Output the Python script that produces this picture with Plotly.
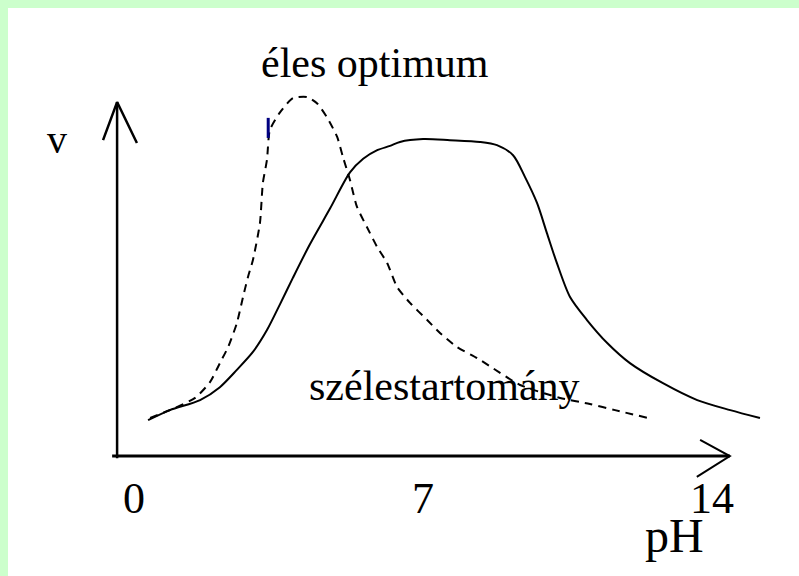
import plotly.graph_objects as go

# Broad range curve (széles tartomány) – pH vs relative rate v
broad_ph = [0.34, 0.87, 1.60, 2.08, 2.49, 2.88, 3.22, 3.54, 3.85, 4.26, 4.75, 5.23, 5.55, 5.89,
            6.20, 6.44, 7.00, 7.65, 8.38, 8.79, 9.18, 9.47, 9.76, 10.00, 10.24, 10.56, 10.97,
            11.46, 12.01, 12.81, 13.64, 14.44, 15.16]
broad_v = [0.100, 0.128, 0.156, 0.192, 0.240, 0.290, 0.351, 0.424, 0.497, 0.590, 0.690, 0.790,
           0.828, 0.852, 0.864, 0.875, 0.883, 0.880, 0.875, 0.866, 0.838, 0.777, 0.705, 0.621,
           0.538, 0.443, 0.379, 0.315, 0.259, 0.203, 0.156, 0.128, 0.106]

# Sharp optimum curve (éles optimum)
sharp_ph = [0.39, 0.99, 1.48, 1.84, 2.08, 2.28, 2.49, 2.64, 2.76, 2.88, 3.05, 3.12, 3.22, 3.29,
            3.54, 3.85, 4.19, 4.43, 4.67, 4.92, 5.06, 5.23, 5.40, 5.64, 5.89, 6.13, 6.37, 6.69,
            7.10, 7.41, 7.82, 8.31, 8.69, 9.35, 10.32, 11.04, 11.65, 12.45]
sharp_v = [0.106, 0.134, 0.162, 0.206, 0.259, 0.304, 0.370, 0.443, 0.499, 0.546, 0.649, 0.760,
           0.825, 0.908, 0.958, 0.997, 1.000, 0.983, 0.944, 0.889, 0.833, 0.769, 0.694, 0.638,
           0.582, 0.538, 0.471, 0.426, 0.379, 0.343, 0.304, 0.273, 0.245, 0.198, 0.162, 0.145,
           0.128, 0.106]

tick_values = [0, 7, 14]
tick_labels = ["0", "7", "14"]

FONT = "Liberation Serif"
BLACK = "#000000"

fig = go.Figure()

fig.add_trace(go.Scatter(x=broad_ph, y=broad_v, mode="lines",
                         line=dict(color=BLACK, width=2, shape="spline", smoothing=0.8),
                         hoverinfo="skip", showlegend=False))
fig.add_trace(go.Scatter(x=sharp_ph, y=sharp_v, mode="lines",
                         line=dict(color=BLACK, width=2, dash="8px,6px", shape="spline", smoothing=0.6),
                         hoverinfo="skip", showlegend=False))
# small blue mark on the dashed curve
fig.add_trace(go.Scatter(x=[3.25, 3.25], y=[0.942, 0.886], mode="lines", line=dict(color="#000080", width=3),
                         hoverinfo="skip", showlegend=False))

# axes with open arrow heads
axis_lines = [
    ([-0.41, -0.41], [-0.006, 0.986], 2.5),     # vertical axis
    ([-0.75, -0.41, 0.07], [0.880, 0.986, 0.872], 2.5),  # arrow head v
    ([-0.53, 14.43], [0.0, 0.0], 3),            # horizontal axis
    ([13.71, 14.43, 13.63], [0.045, 0.0, -0.058], 2),  # arrow head pH
]
for xs, ys, w in axis_lines:
    fig.add_trace(go.Scatter(x=xs, y=ys, mode="lines", line=dict(color=BLACK, width=w),
                             hoverinfo="skip", showlegend=False))

annotations = []
for tv, tl in zip(tick_values, tick_labels):
    annotations.append(dict(x=tv, y=-0.117, text=tl, showarrow=False, xanchor="center", yanchor="middle",
                            font=dict(family=FONT, size=44, color=BLACK)))
annotations += [
    dict(x=13.10, y=-0.22, text="pH", showarrow=False, xanchor="center", yanchor="middle",
         font=dict(family=FONT, size=48, color=BLACK)),
    dict(x=-1.86, y=0.883, text="v", showarrow=False, xanchor="center", yanchor="middle",
         font=dict(family=FONT, size=40, color=BLACK)),
    dict(x=5.84, y=1.095, text="éles optimum", showarrow=False, xanchor="center", yanchor="middle",
         font=dict(family=FONT, size=42, color=BLACK)),
    dict(x=7.53, y=0.195, text="szélestartomány", showarrow=False, xanchor="center", yanchor="middle",
         font=dict(family=FONT, size=42, color=BLACK)),
]

fig.update_layout(
    width=799, height=576,
    margin=dict(l=8, t=8, r=0, b=0, pad=0),
    paper_bgcolor="#CCFFCC",
    plot_bgcolor="#FFFFFF",
    xaxis=dict(range=[-3.052, 16.105], visible=False, fixedrange=True),
    yaxis=dict(range=[-0.334, 1.248], visible=False, fixedrange=True),
    annotations=annotations,
    showlegend=False,
)

fig.write_html("out.html", config={"displayModeBar": False},
               post_script="document.body.style.margin='0';document.body.style.overflow='hidden';")
